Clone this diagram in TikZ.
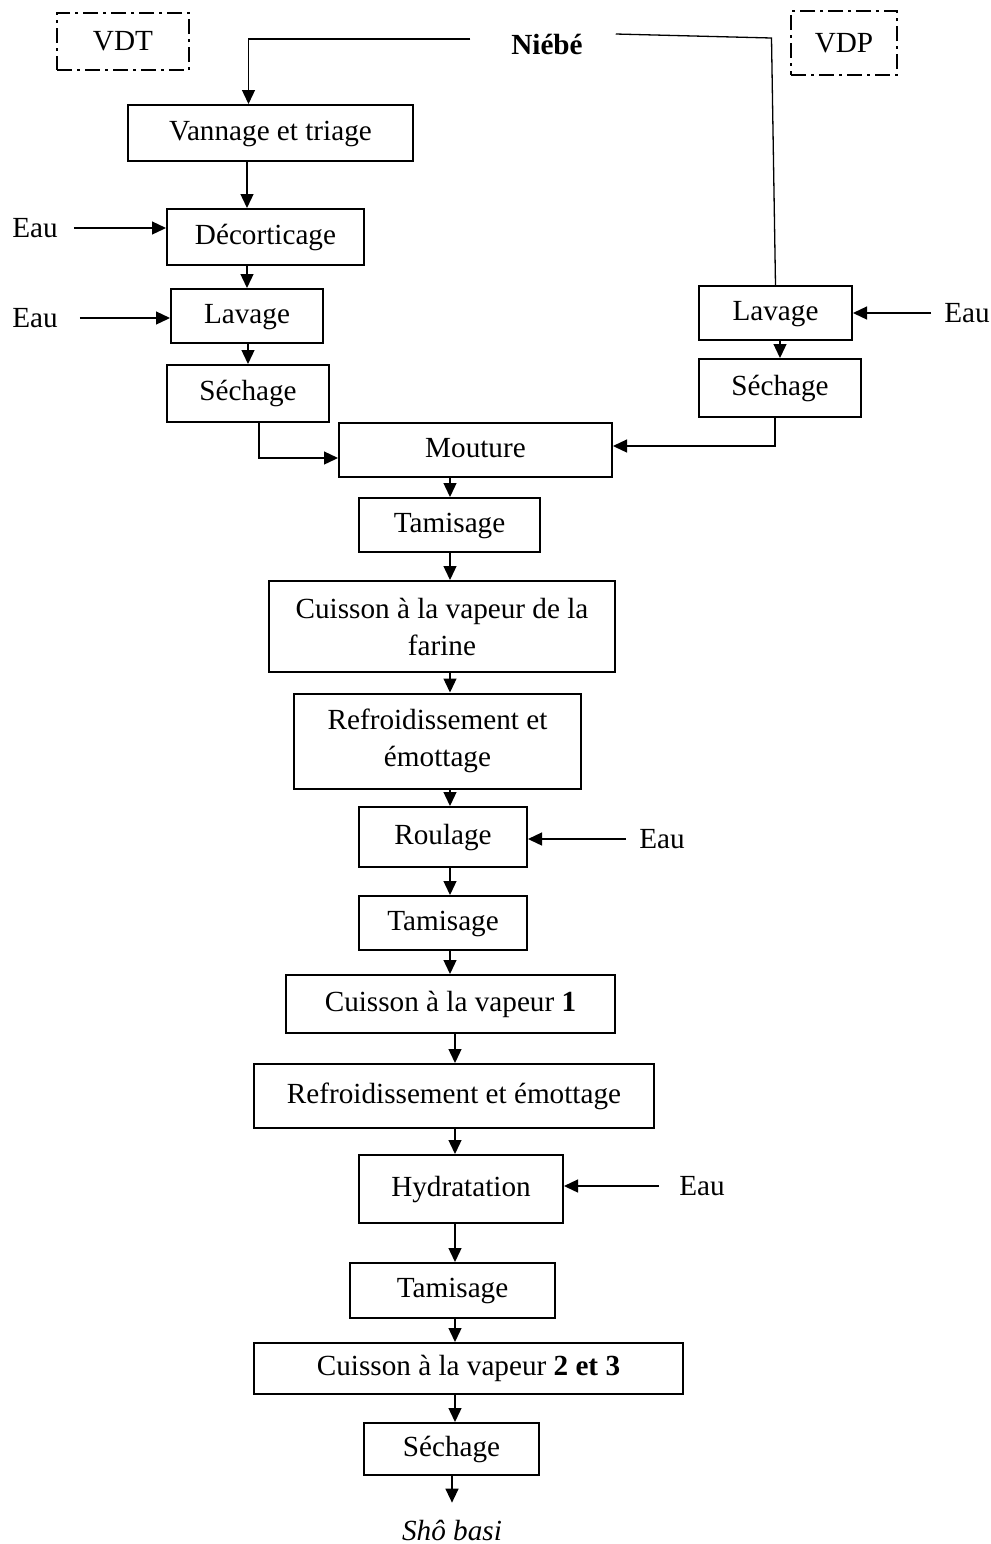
\documentclass[tikz,border=0pt]{standalone}
\usepackage{fontspec}
\setmainfont{Liberation Serif}
\usetikzlibrary{arrows.meta}

\begin{document}
\begin{tikzpicture}[x=0.5pt, y=-0.5pt,
    every node/.style={font=\fontsize{14.6}{18.5}\selectfont},
    box/.style={draw, line width=1pt, inner sep=0pt, text height=0.82em, text depth=0.1em},
    boxtwo/.style={draw, line width=1pt, inner sep=0pt, align=center},
    varbox/.style={draw, line width=1pt, inner sep=0pt,
        dash pattern=on 7.5pt off 2.5pt on 1.5pt off 2.5pt},
    arr/.style={line width=0.65pt, -{Triangle[length=7pt, width=6.5pt]}},
    link/.style={line width=0.65pt}]

\useasboundingbox (0,0) rectangle (991,1544);

% --- Raw material and varieties ---
\node[varbox, minimum width=66pt, minimum height=28.5pt] (vdt) at (123,41.5) {VDT};
\node[varbox, minimum width=53pt, minimum height=32pt] (vdp) at (844,43) {VDP};
\node[font=\fontsize{14.6}{18.5}\selectfont\bfseries] (niebe) at (547,44) {Niébé};

% --- Left branch (VDT) ---
\node[box, minimum width=142.5pt, minimum height=28pt] (vann) at (270.5,133) {Vannage et triage};
\node[box, minimum width=98.5pt, minimum height=28pt] (deco) at (265.5,237) {Décorticage};
\node[box, minimum width=76pt, minimum height=27pt] (lavL) at (247,316) {Lavage};
\node[box, minimum width=81pt, minimum height=28.5pt] (sechL) at (248,393.5) {Séchage};
\node (eauA) at (35,228) {Eau};
\node (eauB) at (35,318) {Eau};

% --- Right branch (VDP) ---
\node[box, minimum width=76.5pt, minimum height=27pt] (lavR) at (775.5,313) {Lavage};
\node[box, minimum width=81pt, minimum height=29pt] (sechR) at (780,388) {Séchage};
\node (eauC) at (967,313) {Eau};

% --- Main line ---
\node[box, minimum width=136.5pt, minimum height=27pt] (mout) at (475.5,450) {Mouture};
\node[box, minimum width=90.5pt, minimum height=27pt] (tamA) at (449.5,525) {Tamisage};
\node[boxtwo, minimum width=173pt, minimum height=45.5pt] (cuisF) at (442,626.5) {Cuisson à la vapeur de la\\farine};
\node[boxtwo, minimum width=143.5pt, minimum height=47.5pt] (refrA) at (437.5,741) {Refroidissement et\\émottage};
\node[box, minimum width=84pt, minimum height=30pt] (roul) at (443,837) {Roulage};
\node (eauD) at (662,839) {Eau};
\node[box, minimum width=84pt, minimum height=27pt] (tamB) at (443,923) {Tamisage};
\node[box, minimum width=164.5pt, minimum height=29pt] (cuisA) at (450.5,1004) {Cuisson à la vapeur \textbf{1}};
\node[box, minimum width=200pt, minimum height=32pt] (refrB) at (454,1096) {Refroidissement et émottage};
\node[box, minimum width=102pt, minimum height=34pt] (hydr) at (461,1189) {Hydratation};
\node (eauE) at (702,1186) {Eau};
\node[box, minimum width=102.5pt, minimum height=27.5pt] (tamC) at (452.5,1290.5) {Tamisage};
\node[box, minimum width=214.5pt, minimum height=25.5pt] (cuisB) at (468.5,1368.5) {Cuisson à la vapeur \textbf{2 et 3}};
\node[box, minimum width=87.5pt, minimum height=26pt] (sechF) at (451.5,1449) {Séchage};
\node[font=\fontsize{14.6}{18.5}\selectfont\itshape] (sho) at (452,1530) {Shô basi};

\coordinate (spine) at (450,0);
\coordinate (spineB) at (455,0);

% Niébé to both branches
\draw[arr] ([xshift=-17pt, yshift=2.5pt]niebe.west) -| ([xshift=-11pt]vann.north);
\draw[link] ([xshift=13pt, yshift=5pt]niebe.east)
    -- ([xshift=-2pt, yshift=3pt]lavR.north |- niebe.east) -- (lavR.north);

% Left branch arrows
\draw[arr] (lavL.north |- vann.south) -- (lavL.north |- deco.north);
\draw[arr] (lavL.north |- deco.south) -- (lavL.north);
\draw[arr] (sechL.north |- lavL.south) -- (sechL.north);
\draw[arr] ([xshift=4.5pt]eauA.east) -- (deco.west |- eauA.east);
\draw[arr] ([xshift=7.5pt]eauB.east) -- (lavL.west |- eauB.east);
\draw[arr] ([xshift=5.5pt]sechL.south) |- ([yshift=-4pt]mout.west);

% Right branch arrows
\draw[arr] ([xshift=-3pt]eauC.west) -- (lavR.east |- eauC.west);
\draw[arr] (sechR.north |- lavR.south) -- (sechR.north);
\draw[arr] ([xshift=-2.5pt]sechR.south) |- ([yshift=2pt]mout.east);

% Main line arrows
\draw[arr] (spine |- mout.south) -- (spine |- tamA.north);
\draw[arr] (spine |- tamA.south) -- (spine |- cuisF.north);
\draw[arr] (spine |- cuisF.south) -- (spine |- refrA.north);
\draw[arr] (spine |- refrA.south) -- (spine |- roul.north);
\draw[arr] (spine |- roul.south) -- (spine |- tamB.north);
\draw[arr] (spine |- tamB.south) -- (spine |- cuisA.north);
\draw[arr] (spineB |- cuisA.south) -- (spineB |- refrB.north);
\draw[arr] (spineB |- refrB.south) -- (spineB |- hydr.north);
\draw[arr] (spineB |- hydr.south) -- (spineB |- tamC.north);
\draw[arr] (spineB |- tamC.south) -- (spineB |- cuisB.north);
\draw[arr] (spineB |- cuisB.south) -- (spineB |- sechF.north);
\draw[arr] (sechF.south -| sho.north) -- ([yshift=5pt]sho.north);

% Water inputs
\draw[arr] ([xshift=-3pt]eauD.west) -- (roul.east |- eauD.west);
\draw[arr] ([xshift=-6.5pt]eauE.west) -- (hydr.east |- eauE.west);

\end{tikzpicture}
\end{document}
